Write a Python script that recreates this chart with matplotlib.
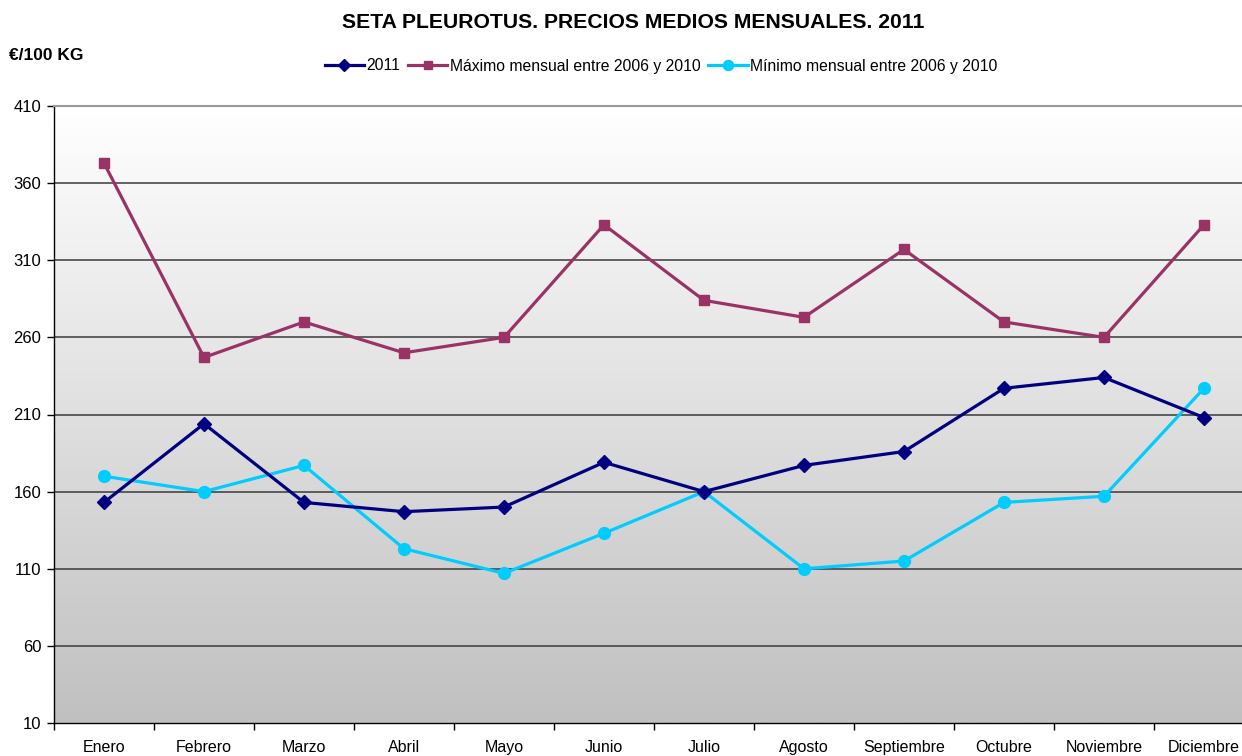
import numpy as np
import matplotlib
matplotlib.use("Agg")
import matplotlib.pyplot as plt
from matplotlib.colors import LinearSegmentedColormap

plt.rcParams['font.family'] = ['Liberation Sans', 'DejaVu Sans']

months = ["Enero", "Febrero", "Marzo", "Abril", "Mayo", "Junio", "Julio",
          "Agosto", "Septiembre", "Octubre", "Noviembre", "Diciembre"]
s2011 = [153, 204, 153, 147, 150, 179, 160, 177, 186, 227, 234, 208]
smax = [373, 247, 270, 250, 260, 333, 284, 273, 317, 270, 260, 333]
smin = [170, 160, 177, 123, 107, 133, 160, 110, 115, 153, 157, 227]
yticks = [10, 60, 110, 160, 210, 260, 310, 360, 410]

W, H = 1242, 756
fig = plt.figure(figsize=(W / 100, H / 100), dpi=100)
left, right, top, bottom = 54, 1254, 106, 723
ax = fig.add_axes([left / W, 1 - bottom / H, (right - left) / W, (bottom - top) / H])

x = np.arange(len(months))
ax.set_xlim(-0.5, len(months) - 0.5)
ax.set_ylim(10, 410)

cmap = LinearSegmentedColormap.from_list("g", ["#c0c0c0", "#ffffff"])
grad = np.linspace(0, 1, 256)[:, None]
ax.imshow(grad, extent=[-0.5, len(months) - 0.5, 10, 410], aspect='auto',
          cmap=cmap, origin='lower', zorder=0)

for yv in yticks[1:-1]:
    ax.axhline(yv, color='#3a3a3a', lw=1.1, zorder=1)

ax.plot(x, s2011, color='#000080', lw=2.3, marker='D', ms=7.5, zorder=4, label='2011')
ax.plot(x, smax, color='#993366', lw=2.3, marker='s', ms=7.5, zorder=3,
        label='Máximo mensual entre 2006 y 2010')
ax.plot(x, smin, color='#00ccff', lw=2.3, marker='o', ms=8.5, zorder=3,
        label='Mínimo mensual entre 2006 y 2010')

ax.set_yticks(yticks)
ax.set_yticklabels([str(v) for v in yticks], fontsize=12)
ax.set_xticks(x)
ax.set_xticklabels(months, fontsize=11.5)
ax.set_xticks(np.arange(-0.5, len(months)), minor=True)
ax.tick_params(axis='x', which='major', length=0, pad=12)
ax.tick_params(axis='x', which='minor', length=5, width=1, color='#000000')
ax.tick_params(axis='y', length=5, width=1, pad=4)

ax.spines['right'].set_visible(False)
ax.spines['top'].set_color('#999999')
ax.spines['top'].set_linewidth(1.5)
ax.spines['left'].set_color('#000000')
ax.spines['bottom'].set_color('#000000')
ax.spines['left'].set_linewidth(1)
ax.spines['bottom'].set_linewidth(1)

fig.text(633 / W, 1 - 23 / H, "SETA PLEUROTUS. PRECIOS MEDIOS MENSUALES. 2011",
         ha='center', va='center', fontsize=15.2, fontweight='bold')
fig.text(9 / W, 1 - 56 / H, "€/100 KG", ha='left', va='center',
         fontsize=12.5, fontweight='bold')

fig.legend(loc='center', bbox_to_anchor=(661 / W, 1 - 66 / H), ncol=3,
           frameon=False, fontsize=11.3, handlelength=2.5, handletextpad=0.15,
           columnspacing=0.5, markerscale=0.85)

fig.savefig("out.png", dpi=100)
